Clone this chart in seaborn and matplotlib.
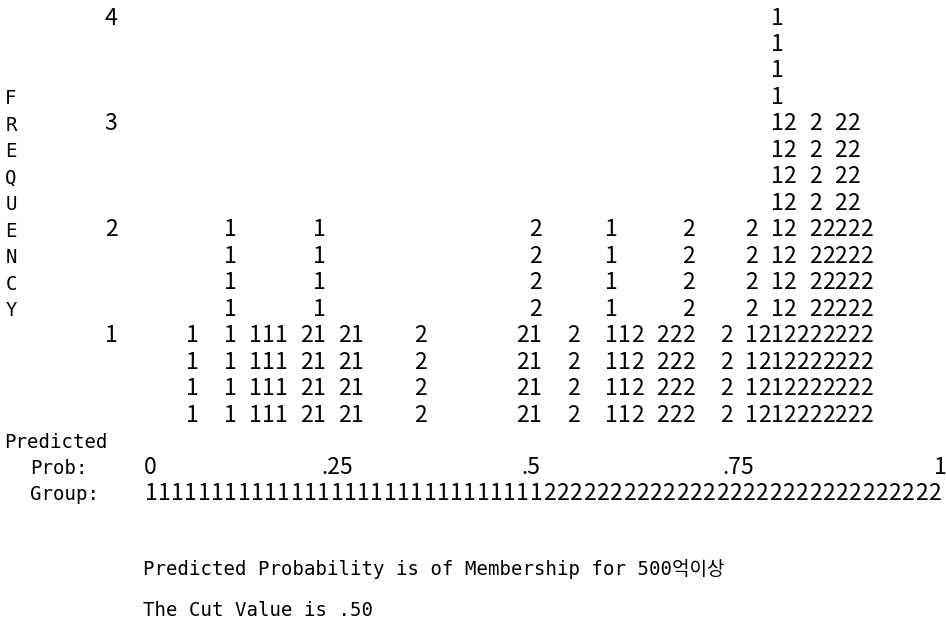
import matplotlib
matplotlib.use("Agg")
import matplotlib.pyplot as plt
import seaborn as sns
import pandas as pd

# ---------------- data ----------------
# plot column of each stack (character columns of the classification plot)
bin_cols = [0, 3, 5, 6, 7, 9, 10, 12, 13, 18, 26, 27, 30, 33, 34, 35, 37, 38, 39, 42,
            44, 45, 46, 47, 48, 49, 50, 51, 52, 53]
# observed groups stacked in each column, bottom -> top (one entry per case)
bin_stacks = [[1], [1, 1], [1], [1], [1], [2], [1, 1], [2], [1], [2], [2], [1, 2], [2],
              [1, 1], [1], [2], [2], [2], [2, 2], [2],
              [1, 2], [2], [1, 1, 1, 1], [2, 2, 2], [2], [2, 2, 2], [2, 2], [2, 2, 2],
              [2, 2, 2], [2, 2]]
lines_per_case = 4                      # each symbol represents .25 cases
freq_ticks = [1, 2, 3, 4]
prob_tick_labels = ["0", ".25", ".5", ".75", "1"]
n_group_cols = 60
cut_value = 0.50
target_label = "500억이상"
axis_word = "FREQUENCY"

# ---------------- fonts / theme ----------------
sns.set_theme(style="white")
BODY = ["Noto Sans CJK KR", "DejaVu Sans"]
MONO = ["DejaVu Sans Mono", "Noto Sans CJK KR"]
plt.rcParams["font.family"] = BODY

W, H = 946, 625
fig = plt.figure(figsize=(W / 100, H / 100), dpi=100)
fig.patch.set_facecolor("white")
ax = fig.add_axes([0, 0, 1, 1])
# x: plot character column, y: frequency
ax.set_xlim(-192 / 12.72, (W - 192) / 12.72)
ax.set_ylim((441.5 - H) / 105.87, 441.5 / 105.87)
ax.axis("off")

# long-form table of symbols
rows = []
for c, stack in zip(bin_cols, bin_stacks):
    for j, g in enumerate(stack):
        for s in range(lines_per_case):
            rows.append({"col": c, "freq": j + (s + 1) / lines_per_case, "group": str(g)})
df = pd.DataFrame(rows)

FS = 16.5
for r in df.itertuples():
    ax.text(r.col, r.freq, r.group, ha="center", va="center", fontsize=FS,
            color="black", family=BODY)

def fx(px):
    return px / W

def fy(py):
    return 1 - py / H

# frequency labels
for f in freq_ticks:
    ax.text((111 - 192) / 12.72, f, str(f), ha="center", va="center", fontsize=FS,
            color="black", family=BODY)

TS = 13.7
# vertical axis word
for i, ch in enumerate(axis_word):
    fig.text(fx(11), fy(99 + 26.47 * i), ch, ha="center", va="center", fontsize=TS,
             color="black", family=MONO)

# bottom axis block
fig.text(fx(4), fy(442), "Predicted", ha="left", va="center", fontsize=TS,
         color="black", family=MONO)
fig.text(fx(30), fy(468), "Prob:", ha="left", va="center", fontsize=TS,
         color="black", family=MONO)
fig.text(fx(30), fy(494.5), "Group:", ha="left", va="center", fontsize=TS,
         color="black", family=MONO)

prob_px = [150, 337, 531, 738, 940]
for lab, px in zip(prob_tick_labels, prob_px):
    fig.text(fx(px), fy(467.5), lab, ha="center", va="center", fontsize=FS,
             color="black", family=BODY)

g_x0, g_w = 151.0, 13.28
for k in range(n_group_cols):
    p = (k + 0.5) / n_group_cols
    sym = "1" if p < cut_value else "2"
    fig.text(fx(g_x0 + g_w * k), fy(494), sym, ha="center", va="center", fontsize=FS,
             color="black", family=BODY)

fig.text(fx(143), fy(569), f"Predicted Probability is of Membership for {target_label}",
         ha="left", va="center", fontsize=TS, color="black", family=MONO)
fig.text(fx(143), fy(610), f"The Cut Value is {cut_value:.2f}".replace("0.", "."),
         ha="left", va="center", fontsize=TS, color="black", family=MONO)

fig.savefig("out.png", dpi=100, facecolor="white")
